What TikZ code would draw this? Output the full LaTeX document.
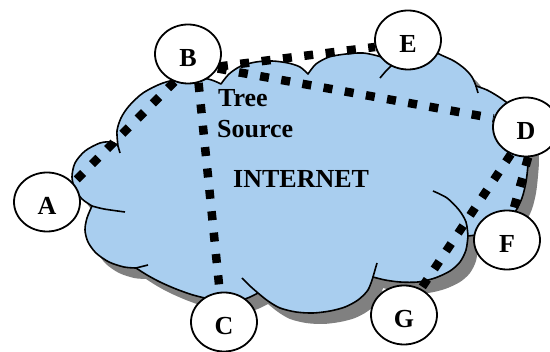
\documentclass[tikz,border=0pt]{standalone}
\usepackage{fontspec}
\setmainfont{Liberation Serif}
\usetikzlibrary{shapes.geometric}
\definecolor{cloudblue}{RGB}{169,206,239}
\definecolor{shadowgray}{RGB}{128,128,128}
\pgfdeclarelayer{back}
\pgfdeclarelayer{mid}
\pgfsetlayers{back,mid,main}
\def\cloudpath{plot[smooth] coordinates {(92,206) (82,199) (75,189) (72,177) (75,163) (85,151) (100,143) (112,142) (118,146)}
 -- plot[smooth] coordinates {(118,146) (117,131) (121,118) (129,106) (143,93) (163,83) (186,78) (208,79) (221,84)}
 -- plot[smooth] coordinates {(221,84) (229,74) (241,66) (256,62) (272,61) (288,63) (300,67) (308,74)}
 -- plot[smooth] coordinates {(308,74) (316,64) (329,57) (346,54) (363,53) (378,56) (388,60) (392,65)}
 -- plot[smooth] coordinates {(392,65) (399,53) (412,46) (427,47) (439,54) (454,61) (465,69) (472,77) (476,86)}
 -- plot[smooth] coordinates {(476,86) (487,90) (499,97) (511,106) (521,118) (527,132) (529,148) (528,165) (526,182) (522,198) (515,212) (503,225) (487,233) (468,236)}
 -- plot[smooth] coordinates {(468,236) (466,250) (460,262) (450,271) (435,278) (418,282) (400,282) (385,280) (373,277)}
 -- plot[smooth] coordinates {(373,277) (368,290) (358,300) (345,307) (330,311) (313,313) (296,312) (280,308) (268,301) (258,293)}
 -- plot[smooth] coordinates {(258,293) (245,299) (228,301) (210,299) (193,295) (176,289) (160,282) (147,275) (136,268)}
 -- plot[smooth] coordinates {(136,268) (124,267) (109,262) (96,253) (88,242) (85,230) (87,218) (92,206)}
 -- cycle}
\begin{document}
\begin{tikzpicture}[x=1pt,y=-1pt,
  vtx/.style={ellipse, draw, fill=white, line width=1.8pt, minimum width=66pt,
    minimum height=59pt, inner sep=0pt, text height=25.6pt, text depth=0pt,
    font=\fontsize{26}{30}\selectfont\bfseries},
  edgeline/.style={line width=8.5pt, dash pattern=on 9pt off 12.5pt},
  outline/.style={line width=1.6pt, line join=round},
  lbl/.style={anchor=base west, inner sep=0pt, font=\fontsize{26}{30}\selectfont\bfseries}]
\useasboundingbox (0,0) rectangle (550,352);
% vertices
\node[vtx] (A) at (47,202) {A};
\node[vtx] (B) at (188,54) {B};
\node[vtx] (C) at (224,322) {C};
\node[vtx] (D) at (526,127) {D};
\node[vtx] (E) at (408,40) {E};
\node[vtx] (F) at (507,240) {F};
\node[vtx] (G) at (404,315) {G};
% texts
\node[lbl] (tree) at (218,107) {Tree};
\node[lbl] (source) at (217,138) {Source};
\node[lbl] (internet) at (233,188) {INTERNET};
% cloud
\begin{pgfonlayer}{back}
\fill[shadowgray, shift={(10,11)}] \cloudpath;
\filldraw[fill=cloudblue, draw=black, outline] \cloudpath;
\draw[outline] plot[smooth] coordinates {(118,146) (120,153)};
\draw[outline] plot[smooth] coordinates {(92,206) (104,209) (125,212)};
\draw[outline] plot[smooth] coordinates {(136,268) (148,265)};
\draw[outline] plot[smooth] coordinates {(258,293) (250,286) (242,278)};
\draw[outline] plot[smooth] coordinates {(373,277) (375,270) (377,263)};
\draw[outline] plot[smooth] coordinates {(468,236) (466,222) (459,210) (447,198) (433,191)};
\draw[outline] plot[smooth] coordinates {(392,65) (386,71) (380,78)};
\draw[outline] plot[smooth] coordinates {(476,86) (478,93)};
\end{pgfonlayer}
% connectors
\begin{pgfonlayer}{mid}
\draw[edgeline] (B.244) -- (A.36);
\draw[edgeline] (B.290) -- (C.98);
\draw[edgeline] (B.338) -- (E.192);
\draw[edgeline] (B.334) -- (D.165);
\draw[edgeline] (D.241) -- (G.57);
\draw[edgeline] (D.274) -- (F.78);
\end{pgfonlayer}
\end{tikzpicture}
\end{document}
